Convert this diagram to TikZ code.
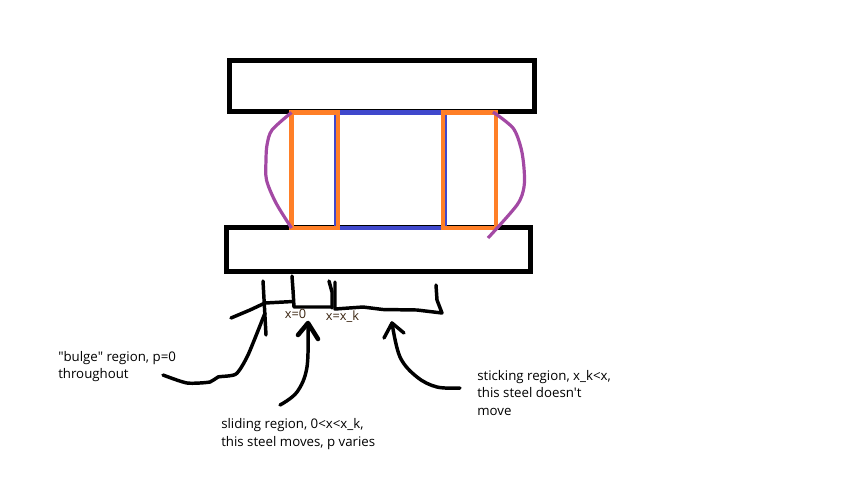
\documentclass[tikz,border=0pt]{standalone}
\usepackage{fontspec}
\setmainfont{Open Sans}[Ligatures=TeXOff]
\usetikzlibrary{calc}

\begin{document}
\begin{tikzpicture}[x=0.75pt, y=-0.75pt]
    % Define display style
    \tikzstyle{plate}=[draw=black, line width=3.75pt]
    \tikzstyle{steel}=[draw=steelblue, line width=3.6pt]
    \tikzstyle{steelthin}=[draw=steelblue, line width=1.2pt]
    \tikzstyle{region}=[draw=regionorange, line width=3.5pt]
    \tikzstyle{bulge}=[draw=bulgepurple, line width=2.4pt, line join=round]
    \tikzstyle{scribble}=[draw=black, line width=2.6pt, line cap=round, line join=round]
    \tikzstyle{note}=[anchor=west, align=left, inner sep=0pt, font=\fontsize{9.95pt}{13.4pt}\selectfont]
    \tikzstyle{mark label}=[inner sep=0pt, text=labelbrown, font=\fontsize{9.6pt}{11pt}\selectfont]
    \definecolor{steelblue}{HTML}{3F48CC}
    \definecolor{regionorange}{HTML}{FF7F27}
    \definecolor{bulgepurple}{HTML}{A349A4}
    \definecolor{labelbrown}{HTML}{3A2410}

    \useasboundingbox (0,0) rectangle (854,487);

    % Define coordinates
    \coordinate (LeftOut)  at (291.5,112.5);
    \coordinate (LeftIn)   at (338,228);
    \coordinate (RightIn)  at (443,112.5);
    \coordinate (RightOut) at (496,228);

    \coordinate (bulgeStart) at (163,375);
    \coordinate (bulgeTip)   at (265,313);
    \coordinate (slideStart) at (280,405);
    \coordinate (slideTip)   at (308,323);
    \coordinate (stickStart) at (460,388);
    \coordinate (stickTip)   at (392,323);

    % Draw the plates
    \draw[plate] (229.5,60.5) rectangle (534.5,111.5);
    \draw[plate] (226.5,227.5) rectangle (530.5,271.5);

    % Draw the steel
    \draw[steel] (LeftIn |- LeftOut) -- (RightIn);
    \draw[steel] (LeftIn) -- (RightIn |- LeftIn);
    \draw[steelthin] (335.2,112) -- (335.2,228);
    \draw[steelthin] (446,112) -- (446,228);

    % Draw the two orange regions
    \draw[region] (LeftOut) rectangle (LeftIn);
    \draw[region] (RightIn) rectangle (RightOut);

    % Draw the bulges
    \draw[bulge] plot[smooth, tension=0.5] coordinates {(291.5,112.5) (272,130) (267,145) (266,160) (266.5,180) (276,203) (291.5,228)};
    \draw[bulge] plot[smooth, tension=0.5] coordinates {(493,112) (513,128) (521,148) (524,168) (524,187) (517,205) (488,238)};

    % Draw the ticks and the bracket under the lower plate
    \draw[scribble] (263,281) -- (266,335);
    \draw[scribble] (231,318) -- (250,310) -- (265,303) -- (293,301.5);
    \draw[scribble] (292,276) -- (293,290) -- (294,307) -- (332,307);
    \draw[scribble] (329,281) -- (332,292) -- (332,308);
    \draw[scribble] (335,282) -- (335,309) -- (363,307) -- (383,309.5) -- (417,310) -- (442,313) -- (437,300) -- (436,285);

    % Draw the arrows
    \draw[scribble] plot[smooth, tension=0.4] coordinates {(bulgeStart) (187,383) (210,382) (218,377) (236,374) (248,355) (bulgeTip)};
    \draw[scribble] plot[smooth, tension=0.6] coordinates {(slideStart) (297,392) (307,367) (slideTip)};
    \draw[scribble] plot[smooth, tension=0.6] coordinates {(stickStart) (437,387) (417,377) (400,357) (stickTip)};

    % Draw the arrow heads
    \draw[scribble, line width=3.4pt] (298,335) -- (slideTip) -- (318,339);
    \draw[scribble] (384,338) -- (stickTip) -- (404,333);

    % Draw the labels
    \node[note] (bulgeNote) at (58,366.5) {"bulge" region, p=0\\throughout};
    \node[note] (slideNote) at (221,434) {sliding region, 0<x<x\_k,\\this steel moves, p varies};
    \node[note] (stickNote) at (477,393) {sticking region, x\_k<x,\\this steel doesn't\\move};
    \node[mark label] (zeroMark) at (295.5,313.5) {x=0};
    \node[mark label] (kneeMark) at (342.5,317) {x=x\_k};
\end{tikzpicture}
\end{document}
